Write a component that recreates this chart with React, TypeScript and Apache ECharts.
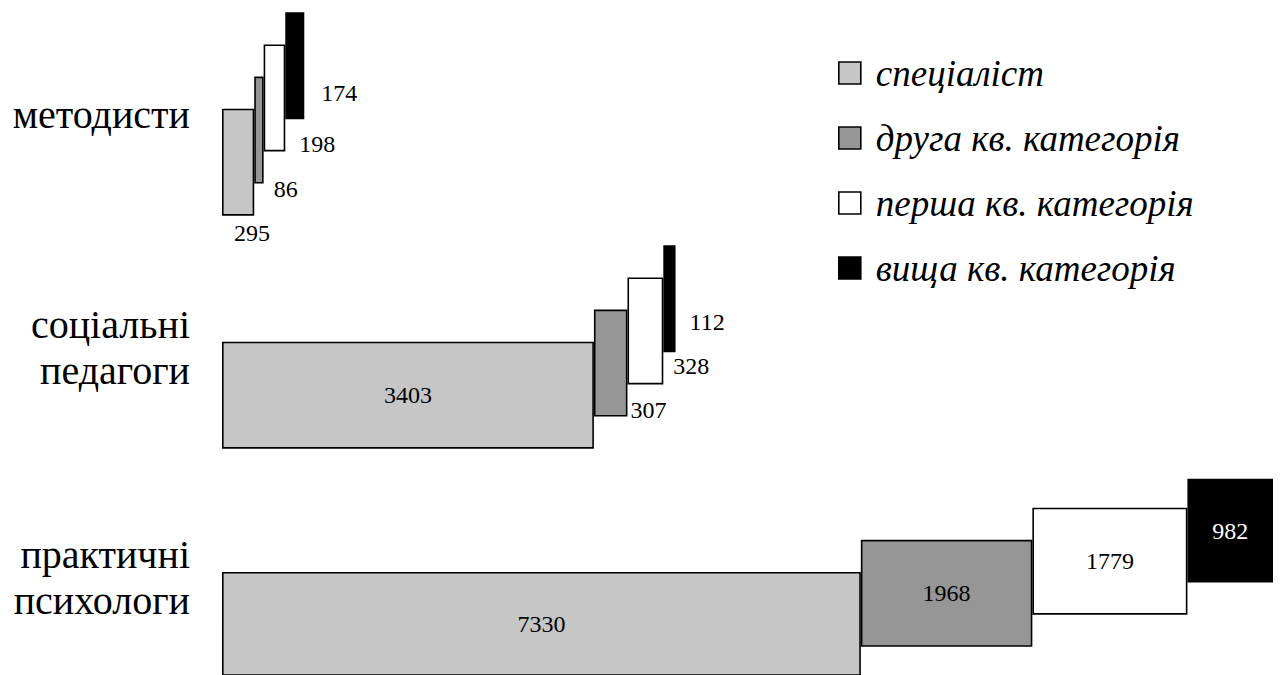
import React, { useEffect, useRef } from 'react';
import * as echarts from 'echarts';

// ---- data ----
const categories = ['методисти', 'соціальні\nпедагоги', 'практичні\nпсихологи'];
const seriesNames = ['спеціаліст', 'друга кв. категорія', 'перша кв. категорія', 'вища кв. категорія'];
const methodists = [295, 86, 198, 174];
const socialPedagogues = [3403, 307, 328, 112];
const practicalPsychologists = [7330, 1968, 1779, 982];
const rowValues = [methodists, socialPedagogues, practicalPsychologists];

// ---- styles / layout ----
const fills = ['#c6c6c6', '#969696', '#ffffff', '#000000'];
const FONT = 'Liberation Serif';
const rowCenters = [114, 347, 581];
const rowAxisMax = [9150, 9150, null];
const rowWidths = [1000, 1000, 1051];
const GRID_LEFT = 222;
const BAR_W = 107;
const GROUP_H = 203;

const outsideRight = (dx: number, dy: number) => ({
  position: ['100%', '100%'],
  align: 'left',
  verticalAlign: 'middle',
  offset: [dx, dy],
});
const labelLayouts: any[][] = [
  [
    { position: 'bottom', distance: 5, offset: [14, 0] },
    outsideRight(10, 5),
    outsideRight(14, -7),
    outsideRight(17, -26),
  ],
  [
    { position: 'inside' },
    outsideRight(3, -7),
    outsideRight(10, -18),
    outsideRight(14, -30),
  ],
  [
    { position: 'inside' },
    { position: 'inside' },
    { position: 'inside' },
    { position: 'inside', color: '#ffffff' },
  ],
];

export default function App() {
  const ref = useRef<HTMLDivElement>(null);
  useEffect(() => {
    if (!ref.current) return;
    const chart = echarts.init(ref.current, null, { renderer: 'svg' });

    const grids: any[] = [];
    const xAxes: any[] = [];
    const yAxes: any[] = [];
    const series: any[] = [];

    rowValues.forEach((vals, r) => {
      const total = vals.reduce((a, b) => a + b, 0);
      grids.push({
        left: GRID_LEFT,
        top: rowCenters[r] - GROUP_H / 2,
        width: rowWidths[r],
        height: GROUP_H,
        containLabel: false,
      });
      xAxes.push({
        type: 'value',
        gridIndex: r,
        min: 0,
        max: rowAxisMax[r] ?? total,
        show: false,
      });
      yAxes.push({
        type: 'category',
        gridIndex: r,
        data: [categories[r]],
        axisLine: { show: false },
        axisTick: { show: false },
        splitLine: { show: false },
        axisLabel: {
          margin: 32,
          align: 'right',
          fontFamily: FONT,
          fontSize: 40,
          lineHeight: 46,
          padding: [10, 0, 0, 0],
          color: '#000',
        },
      });
      const starts: number[] = [];
      let cum = 0;
      vals.forEach((v) => {
        starts.push(cum);
        cum += v;
      });
      // series declared last-to-first so the first segment sits lowest
      for (let k = vals.length - 1; k >= 0; k--) {
        series.push({
          type: 'bar',
          name: '_offset' + k,
          xAxisIndex: r,
          yAxisIndex: r,
          stack: 'seg' + r + '_' + k,
          barWidth: BAR_W,
          barGap: '-70%',
          silent: true,
          itemStyle: { color: 'transparent', borderWidth: 0 },
          label: { show: false },
          emphasis: { disabled: true },
          data: [starts[k]],
        });
        series.push({
          type: 'bar',
          name: seriesNames[k],
          xAxisIndex: r,
          yAxisIndex: r,
          stack: 'seg' + r + '_' + k,
          barWidth: BAR_W,
          barGap: '-70%',
          itemStyle: { color: fills[k], borderColor: '#000', borderWidth: 1.6 },
          label: {
            show: true,
            fontFamily: FONT,
            fontSize: 24,
            color: '#000',
            formatter: '{c}',
            ...labelLayouts[r][k],
          },
          emphasis: { disabled: true },
          data: [vals[k]],
        });
      }
    });

    chart.setOption({
      animation: false,
      backgroundColor: '#ffffff',
      grid: grids,
      xAxis: xAxes,
      yAxis: yAxes,
      legend: {
        data: seriesNames,
        orient: 'vertical',
        left: 833,
        top: 48,
        itemWidth: 22,
        itemHeight: 22,
        itemGap: 25,
        icon: 'rect',
        selectedMode: false,
        itemStyle: { borderColor: '#000', borderWidth: 1.6 },
        textStyle: {
          fontFamily: FONT,
          fontStyle: 'italic',
          fontSize: 37,
          lineHeight: 40,
          color: '#000',
          padding: [0, 0, 0, 10],
        },
      },
      series,
    });
    return () => chart.dispose();
  }, []);

  return (
    <div
      ref={ref}
      style={{ position: 'absolute', left: 0, top: 0, width: 1280, height: 675, background: '#fff' }}
    />
  );
}
